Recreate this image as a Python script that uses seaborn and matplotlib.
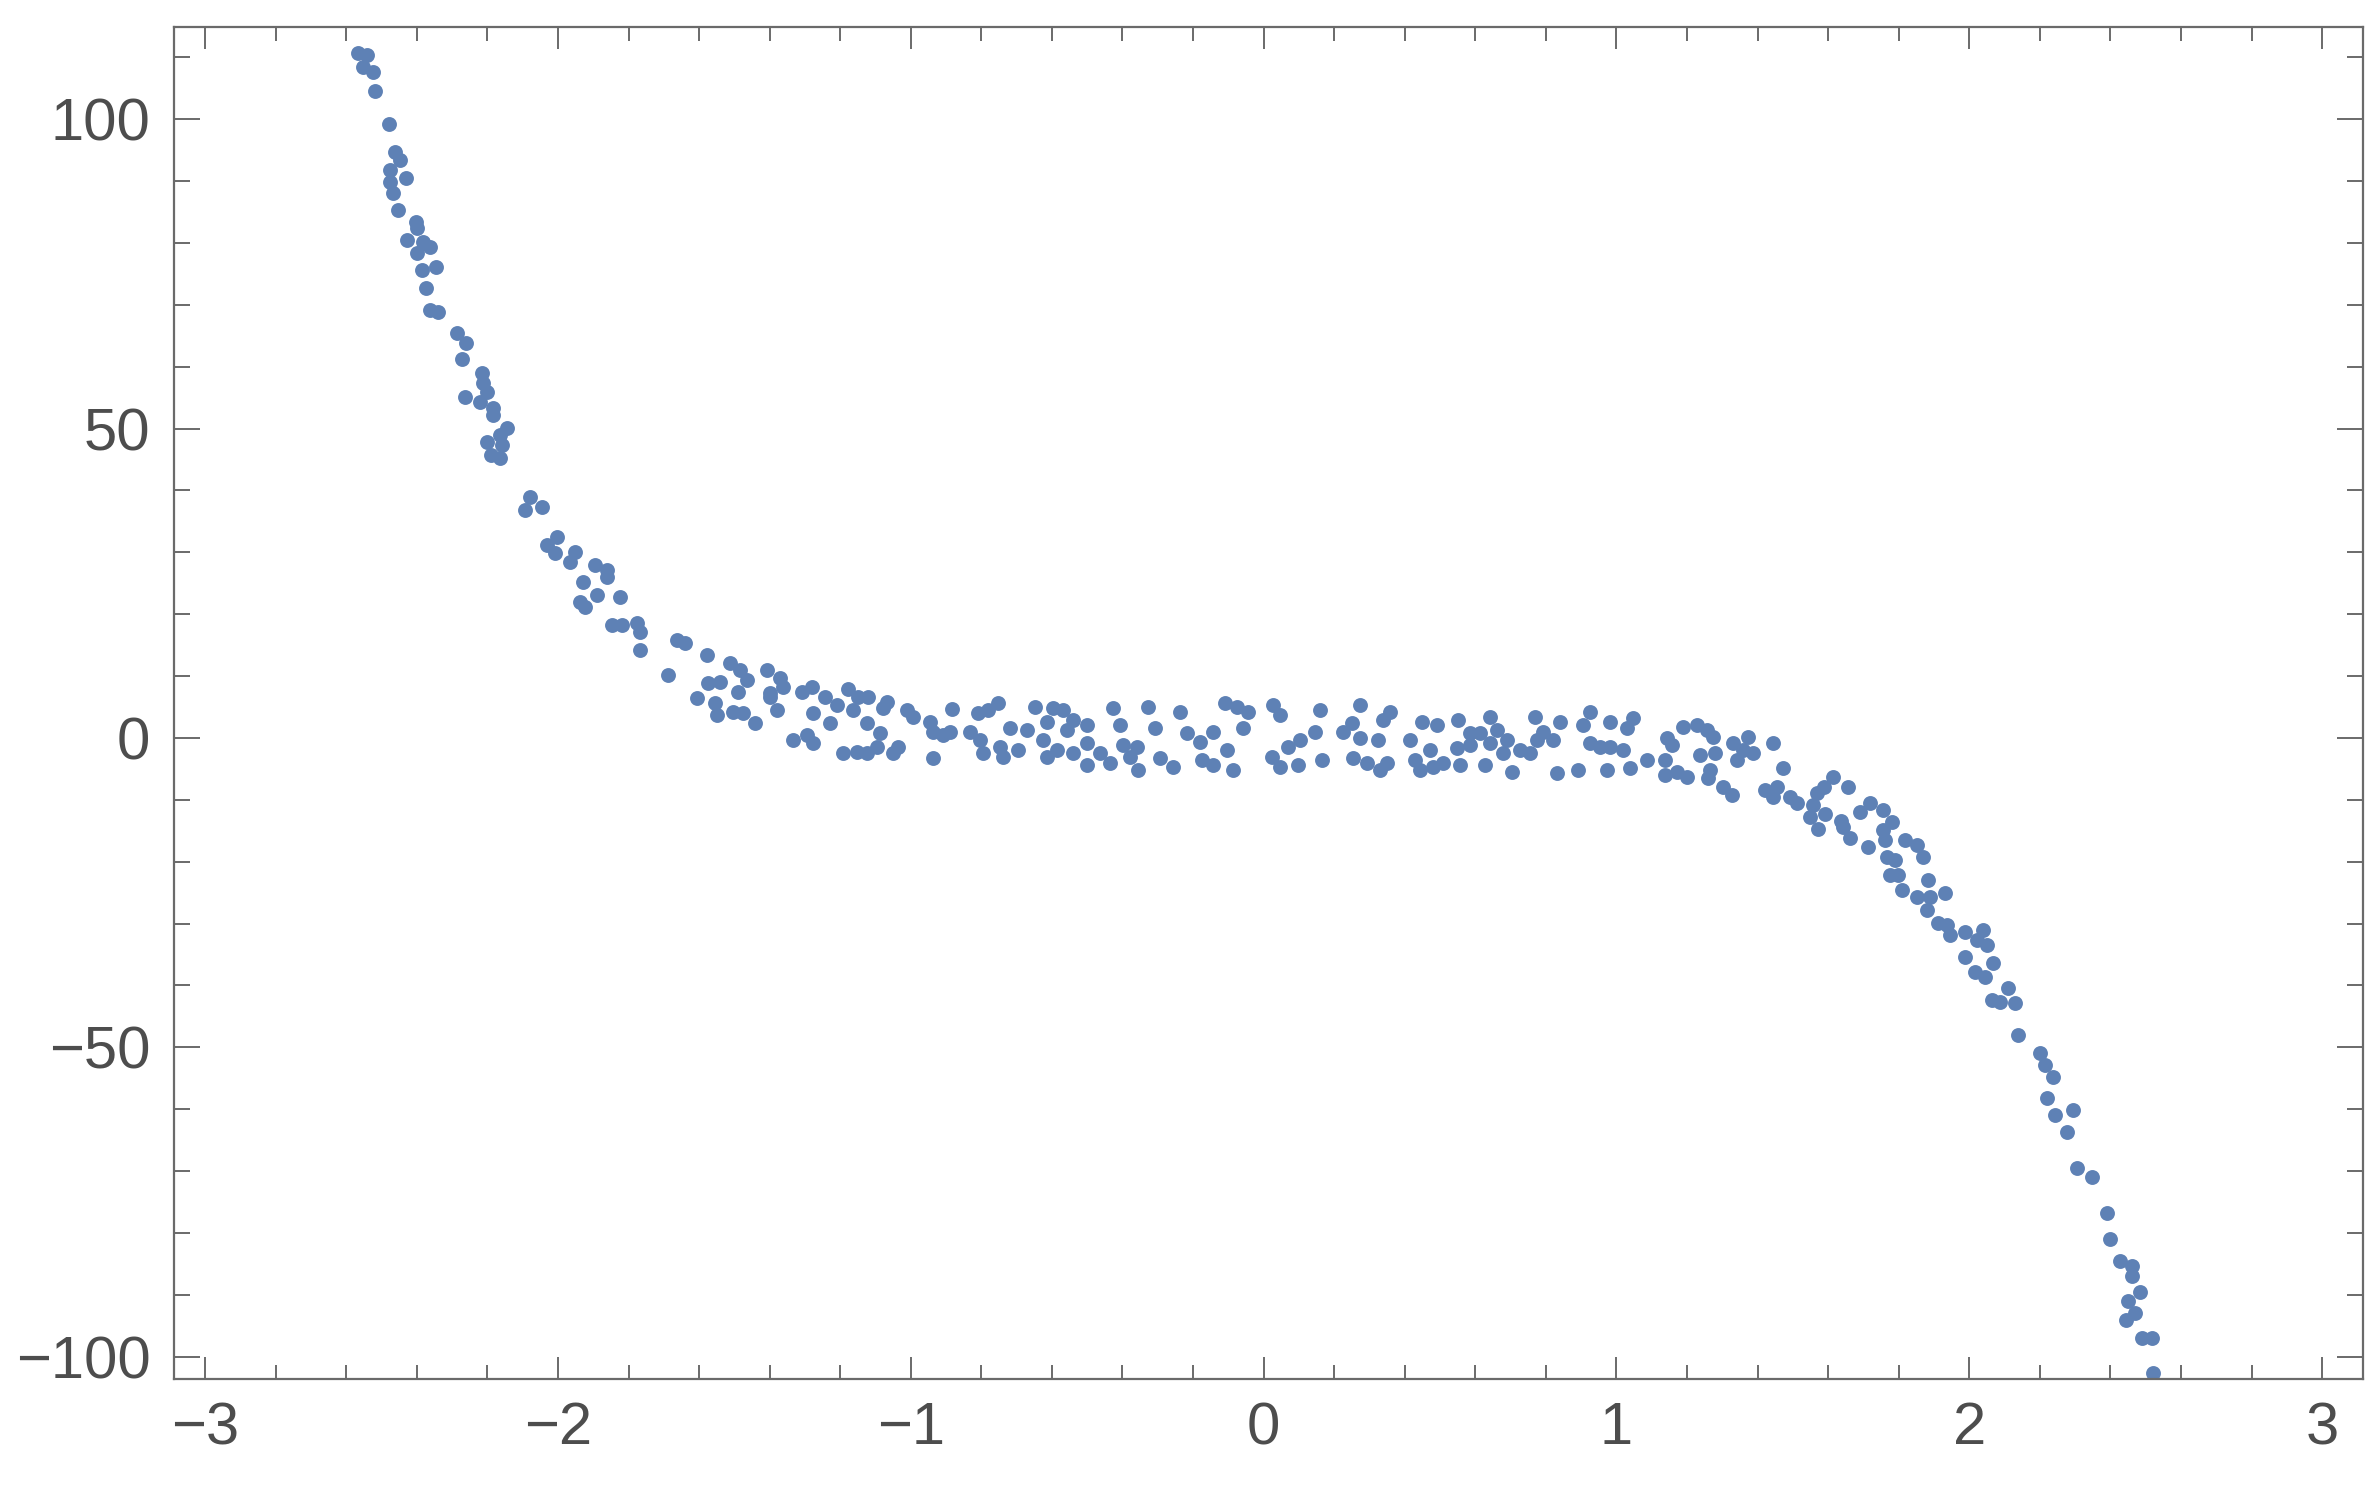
import numpy as np
import pandas as pd
import matplotlib
matplotlib.use("Agg")
import matplotlib.pyplot as plt
from matplotlib.ticker import MultipleLocator
import seaborn as sns

# Data, grouped by region of the curve
left_x = [-2.566, -2.541, -2.552, -2.524, -2.518, -2.478, -2.461, -2.447, -2.476, -2.430,
          -2.476, -2.467, -2.453, -2.402, -2.399, -2.427, -2.382, -2.362, -2.399, -2.385,
          -2.345, -2.374, -2.362, -2.340, -2.286, -2.260, -2.272, -2.215, -2.212, -2.201,
          -2.263, -2.220, -2.184, -2.184, -2.144, -2.164, -2.201, -2.158, -2.190, -2.165]
left_y = [110.7, 110.3, 108.4, 107.6, 104.5, 99.2, 94.7, 93.4, 91.8, 90.5,
          89.8, 88.0, 85.3, 83.4, 82.4, 80.5, 80.1, 79.3, 78.4, 75.6,
          76.1, 72.7, 69.1, 68.8, 65.4, 63.8, 61.2, 59.0, 57.4, 55.9,
          55.1, 54.3, 53.3, 52.2, 50.1, 49.0, 47.8, 47.3, 45.7, 45.2]

knee_x = [-2.079, -2.045, -2.093, -2.002, -2.031, -2.008, -1.951, -1.965, -1.895, -1.861,
          -1.861, -1.929, -1.889, -1.824, -1.937, -1.923, -1.846, -1.818, -1.776, -1.767,
          -1.767, -1.688, -1.662, -1.640, -1.577, -1.512, -1.484, -1.464, -1.489, -1.407,
          -1.370, -1.362, -1.398, -1.574, -1.540, -1.605, -1.554, -1.549, -1.503, -1.475,
          -1.441, -1.398, -1.379, -1.308, -1.279, -1.243, -1.209, -1.277, -1.228, -1.177,
          -1.149, -1.163, -1.124, -1.121, -1.067, -1.078, -1.010, -1.333, -1.294, -1.277,
          -1.192, -1.152, -1.124, -1.095, -1.087, -1.050, -1.036]
knee_y = [38.9, 37.3, 36.8, 32.5, 31.2, 29.9, 30.0, 28.4, 27.9, 27.1,
          26.0, 25.2, 23.1, 22.8, 22.0, 21.2, 18.3, 18.3, 18.6, 17.1,
          14.2, 10.2, 15.8, 15.3, 13.4, 12.1, 11.0, 9.4, 7.4, 11.0,
          9.7, 8.2, 7.3, 8.9, 9.1, 6.5, 5.7, 3.7, 4.2, 4.0,
          2.4, 6.6, 4.5, 7.4, 8.2, 6.6, 5.3, 4.0, 2.4, 7.9,
          6.6, 4.5, 2.4, 6.6, 5.8, 4.8, 4.5, -0.3, 0.5, -0.8,
          -2.4, -2.3, -2.4, -1.5, 0.8, -2.4, -1.5]

mid_x = [-0.993, -0.945, -0.937, -0.908, -0.888, -0.883, -0.937, -0.832, -0.809, -0.780,
         -0.752, -0.803, -0.795, -0.747, -0.738, -0.718, -0.695, -0.670, -0.647, -0.625,
         -0.613, -0.613, -0.596, -0.568, -0.585, -0.557, -0.540, -0.540, -0.500, -0.500,
         -0.500, -0.463, -0.435, -0.426, -0.406, -0.398, -0.378, -0.358, -0.355, -0.327,
         -0.307, -0.293, -0.256, -0.236, -0.217, -0.180, -0.174, -0.143, -0.143, -0.109,
         -0.103, -0.086, -0.075, -0.044, -0.058, 0.027, 0.047, 0.024, 0.047, 0.070,
         0.104, 0.098, 0.146, 0.160, 0.166, 0.226, 0.251, 0.274, 0.274, 0.254,
         0.294, 0.325, 0.339, 0.359, 0.331, 0.351]
mid_y = [3.4, 2.6, 1.0, 0.5, 1.0, 4.7, -3.2, 1.0, 4.0, 4.5,
         5.7, -0.3, -2.4, -1.5, -3.1, 1.6, -1.9, 1.3, 5.0, -0.3,
         -3.1, 2.6, 4.8, 4.5, -1.9, 1.3, 2.9, -2.4, 2.1, -0.8,
         -4.4, -2.4, -4.0, 4.8, 2.1, -1.1, -3.1, -1.5, -5.2, 5.0,
         1.6, -3.2, -4.7, 4.2, 0.8, -0.6, -3.6, 1.0, -4.4, 5.7,
         -1.9, -5.2, 5.0, 4.2, 1.6, 5.3, 3.7, -3.1, -4.7, -1.5,
         -0.3, -4.4, 1.0, 4.5, -3.6, 1.0, 2.4, 5.3, 0.0, -3.2,
         -4.0, -0.3, 2.9, 4.2, -5.2, -4.0]

hump_x = [0.416, 0.449, 0.492, 0.430, 0.444, 0.472, 0.481, 0.509, 0.552, 0.549,
          0.557, 0.586, 0.586, 0.614, 0.628, 0.642, 0.642, 0.662, 0.679, 0.690,
          0.705, 0.727, 0.756, 0.770, 0.775, 0.792, 0.821, 0.832, 0.841, 0.892,
          0.906, 0.926, 0.926, 0.954, 0.974, 0.982, 0.982, 1.019, 1.031, 1.048,
          1.039, 1.087, 1.144, 1.158, 1.138, 1.138, 1.172, 1.200, 1.189, 1.229,
          1.257, 1.274, 1.237, 1.280, 1.266, 1.260, 1.303, 1.328, 1.331, 1.374,
          1.360, 1.388, 1.342, 1.445, 1.473, 1.422, 1.456, 1.445, 1.493, 1.513,
          1.569, 1.587, 1.615, 1.558, 1.550, 1.570, 1.590, 1.636]
hump_y = [-0.3, 2.6, 2.1, -3.6, -5.2, -1.9, -4.7, -4.0, 2.9, -1.6,
          -4.4, 0.8, -1.1, 0.8, -4.4, 3.4, -0.8, 1.3, -2.4, -0.3,
          -5.5, -1.9, -2.4, 3.4, -0.3, 1.0, -0.3, -5.7, 2.6, -5.2,
          2.1, 4.2, -0.8, -1.5, -5.2, -1.5, 2.6, -1.9, 1.6, 3.2,
          -4.8, -3.6, 0.0, -1.1, -3.6, -6.0, -5.5, -6.3, 1.8, 2.1,
          1.3, 0.2, -2.7, -2.4, -5.2, -6.5, -7.9, -9.2, -0.8, 0.2,
          -1.9, -2.4, -3.6, -0.8, -4.8, -8.4, -7.9, -9.5, -9.5, -10.5,
          -8.9, -7.9, -6.3, -10.8, -12.8, -14.7, -12.3, -13.5]

right_x = [1.657, 1.691, 1.719, 1.756, 1.782, 1.643, 1.663, 1.714, 1.756, 1.762,
           1.819, 1.853, 1.870, 1.768, 1.790, 1.776, 1.799, 1.884, 1.810, 1.853,
           1.890, 1.932, 1.881, 1.912, 1.938, 1.946, 1.989, 2.040, 2.023, 2.051,
           1.989, 2.068, 2.017, 2.045, 2.111, 2.065, 2.088, 2.130, 2.139, 2.201,
           2.215, 2.238, 2.221, 2.244, 2.295, 2.278, 2.306, 2.349, 2.390, 2.400,
           2.428, 2.460, 2.460, 2.485, 2.450, 2.470, 2.445, 2.490, 2.518, 2.520]
right_y = [-7.9, -12.0, -10.5, -11.6, -13.6, -14.4, -16.2, -17.6, -14.9, -16.5,
           -16.5, -17.3, -19.2, -19.2, -19.7, -22.1, -22.1, -22.9, -24.6, -25.7,
           -25.7, -25.0, -27.8, -29.9, -30.2, -31.8, -31.3, -31.0, -32.6, -33.4,
           -35.4, -36.3, -37.8, -38.6, -40.4, -42.3, -42.6, -42.8, -48.0, -50.9,
           -52.8, -54.8, -58.2, -60.9, -60.1, -63.7, -69.5, -70.9, -76.7, -81.0,
           -84.6, -85.4, -87.0, -89.5, -91.0, -92.9, -94.0, -96.9, -96.9, -102.6]

x_ticks = [-3, -2, -1, 0, 1, 2, 3]
y_ticks = [-100, -50, 0, 50, 100]

POINT_COLOR = "#5E81B5"
FRAME_COLOR = "#6a6a6a"
LABEL_COLOR = "#4d4d4d"

df = pd.DataFrame({
    "x": left_x + knee_x + mid_x + hump_x + right_x,
    "y": left_y + knee_y + mid_y + hump_y + right_y,
})

sns.set_style("white")
plt.rcParams["font.family"] = ["Liberation Sans", "DejaVu Sans"]

fig = plt.figure(figsize=(23.78, 14.97), dpi=100)
ax = fig.add_axes([0.0732, 0.0788, 0.9205, 0.9032])

sns.scatterplot(data=df, x="x", y="y", ax=ax, color=POINT_COLOR,
                s=115, linewidth=0, alpha=1.0)

ax.set_xlim(-3.088, 3.116)
ax.set_ylim(-103.6, 114.9)
ax.set_xticks(x_ticks)
ax.set_yticks(y_ticks)
ax.xaxis.set_minor_locator(MultipleLocator(0.2))
ax.yaxis.set_minor_locator(MultipleLocator(10))
ax.set_xlabel("")
ax.set_ylabel("")

# Mathematica-like frame: inward ticks on all four sides
for sp in ax.spines.values():
    sp.set_visible(True)
    sp.set_color(FRAME_COLOR)
    sp.set_linewidth(1.6)

ax.tick_params(axis="x", which="major", direction="in", length=16, width=1.4,
               color=FRAME_COLOR, top=True, bottom=True, labelsize=43,
               labelcolor=LABEL_COLOR, pad=16)
ax.tick_params(axis="x", which="minor", direction="in", length=10, width=1.4,
               color=FRAME_COLOR, top=True, bottom=True)
ax.tick_params(axis="y", which="major", direction="in", length=18.5, width=1.4,
               color=FRAME_COLOR, left=True, right=True, labelsize=43,
               labelcolor=LABEL_COLOR, pad=17)
ax.tick_params(axis="y", which="minor", direction="in", length=11.5, width=1.4,
               color=FRAME_COLOR, left=True, right=True)

fig.savefig("out.png", dpi=100, facecolor="white")
plt.close(fig)
